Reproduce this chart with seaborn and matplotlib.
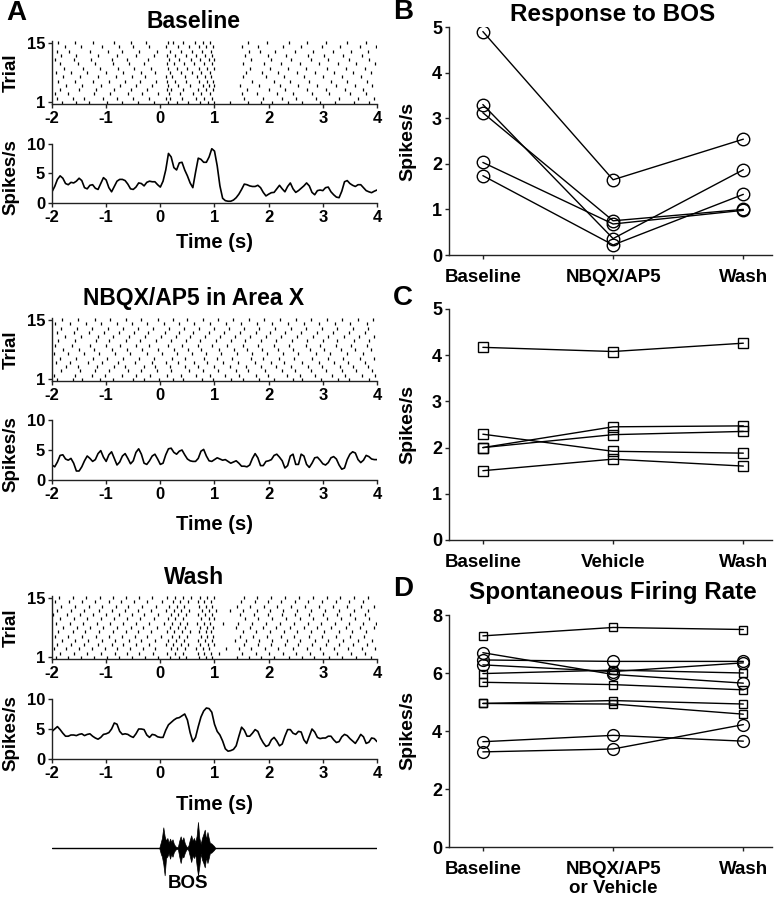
import numpy as np
import pandas as pd
import matplotlib
matplotlib.use("Agg")
import matplotlib.pyplot as plt
import seaborn as sns

# Estilo
sns.set_style("ticks")
plt.rcParams['font.family'] = ['Liberation Sans', 'DejaVu Sans']
plt.rcParams['font.weight'] = 'bold'
plt.rcParams['axes.unicode_minus'] = False
plt.rcParams['axes.linewidth'] = 1.0
plt.rcParams['axes.edgecolor'] = '#222222'
plt.rcParams['text.color'] = 'black'
plt.rcParams['axes.labelcolor'] = 'black'

# ---------------- Panel A: PSTH (spikes/s), 0.05 s bins from -2 to 4 s ----------------
psth_time = np.round(np.arange(-2.0, 4.0001, 0.05), 2)

psth_baseline = [
    1.9, 2.8, 4.0, 4.6, 4.2, 3.3, 3.1, 3.5, 3.4, 3.7,
    4.2, 3.8, 2.6, 2.4, 3.0, 3.1, 2.5, 2.3, 3.3, 4.3,
    3.9, 2.6, 1.9, 2.8, 3.7, 4.0, 4.0, 3.8, 3.2, 2.4,
    2.3, 2.7, 3.4, 3.3, 2.9, 3.5, 3.7, 3.6, 3.6, 3.1,
    2.7, 3.7, 5.6, 8.4, 7.8, 6.0, 5.6, 6.8, 6.9, 5.6,
    4.6, 3.4, 2.6, 5.2, 7.6, 7.4, 6.9, 6.9, 7.8, 9.2,
    8.8, 6.3, 2.9, 0.8, 0.4, 0.3, 0.3, 0.5, 0.9, 1.5,
    2.3, 3.2, 3.1, 2.9, 2.8, 2.8, 3.0, 2.6, 1.8, 1.2,
    1.5, 1.75, 1.8, 2.4, 3.0, 2.4, 1.9, 2.8, 3.4, 2.4,
    1.8, 2.1, 2.5, 2.9, 3.4, 2.9, 1.8, 1.4, 2.1, 2.2,
    2.1, 2.6, 2.7, 1.9, 1.4, 1.0, 0.9, 2.0, 3.6, 3.8,
    3.3, 3.0, 2.8, 3.1, 3.1, 2.6, 2.1, 1.9, 1.75, 2.0,
    2.2,
]
psth_nbqx = [
    2.5, 2.2, 3.0, 4.1, 4.2, 3.5, 3.3, 3.6, 2.8, 1.5,
    1.5, 2.2, 3.2, 4.0, 3.6, 3.1, 3.4, 4.4, 4.9, 3.8,
    3.1, 4.2, 4.7, 3.6, 2.5, 3.0, 4.0, 4.4, 3.6, 2.7,
    3.2, 4.6, 5.2, 4.3, 2.8, 2.6, 3.2, 4.0, 4.3, 3.5,
    2.6, 2.8, 4.2, 5.2, 5.3, 4.6, 4.3, 4.8, 5.0, 4.2,
    3.5, 3.2, 3.1, 3.1, 3.6, 4.8, 5.1, 4.0, 3.2, 3.1,
    3.4, 3.7, 3.5, 3.3, 3.4, 3.1, 2.8, 3.0, 3.2, 2.8,
    2.3, 2.3, 2.2, 2.5, 3.6, 4.4, 3.7, 2.4, 2.4, 3.1,
    3.2, 3.4, 4.1, 4.3, 3.8, 3.2, 2.0, 2.4, 4.0, 4.3,
    2.6, 2.6, 4.3, 4.0, 2.6, 2.1, 2.8, 3.7, 3.8, 3.3,
    2.7, 2.5, 2.9, 3.7, 3.9, 3.5, 2.5, 1.8, 2.0, 3.4,
    4.3, 4.7, 4.5, 3.4, 2.9, 3.3, 4.1, 3.9, 3.5, 3.4,
    3.4,
]
psth_wash = [
    4.6, 5.0, 5.4, 4.9, 4.3, 3.8, 3.8, 4.0, 4.0, 3.9,
    4.1, 4.2, 3.9, 4.1, 4.2, 3.8, 3.5, 3.3, 3.6, 4.1,
    4.2, 4.4, 5.0, 6.0, 5.8, 4.6, 4.1, 4.2, 4.1, 3.8,
    3.6, 4.2, 5.0, 5.0, 4.9, 4.0, 3.6, 4.1, 4.0, 3.7,
    3.6, 3.6, 4.8, 5.7, 6.1, 6.5, 6.8, 6.9, 7.2, 7.5,
    6.5, 4.4, 2.9, 3.6, 5.4, 7.0, 8.0, 8.5, 8.4, 7.8,
    5.8, 4.6, 4.0, 3.0, 1.7, 1.3, 1.4, 1.6, 2.2, 3.8,
    5.3, 4.8, 3.8, 3.8, 4.3, 4.9, 4.6, 3.5, 2.7, 2.1,
    2.3, 3.2, 3.6, 3.0, 2.2, 2.5, 3.8, 4.9, 4.9, 4.3,
    4.1, 4.6, 4.5, 3.2, 2.6, 3.8, 5.0, 4.5, 3.6, 3.4,
    3.5, 3.5, 3.8, 3.8, 3.2, 2.75, 2.9, 3.7, 4.1, 3.9,
    3.4, 3.0, 2.6, 3.3, 4.1, 3.7, 2.6, 2.8, 3.5, 3.4,
    2.9,
]

# ---------------- Panel A: rasters (spike times in s, trials 1..15) ----------------
raster_baseline = [
    [-1.82, -1.55, -1.31, -0.98, -0.71, -0.42, -0.12, 0.14, 0.31, 0.52, 0.73, 0.88, 0.99, 1.28, 1.62, 1.85, 2.07, 2.36, 2.62, 2.95, 3.22, 3.58, 3.85],
    [-1.9, -1.62, -1.4, -1.05, -0.8, -0.5, -0.2, 0.1, 0.18, 0.4, 0.65, 0.8, 0.95, 1.55, 1.9, 2.25, 2.5, 2.88, 3.3, 3.65, 3.95],
    [-1.95, -1.7, -1.22, -0.92, -0.6, -0.33, -0.05, 0.16, 0.36, 0.6, 0.76, 0.92, 1.5, 1.78, 2.15, 2.45, 2.8, 3.12, 3.5, 3.8],
    [-1.85, -1.5, -1.18, -0.85, -0.55, -0.25, 0.12, 0.2, 0.42, 0.7, 0.84, 0.97, 1.6, 2.0, 2.3, 2.7, 3.05, 3.4, 3.75],
    [-1.75, -1.45, -1.1, -0.75, -0.45, -0.15, 0.15, 0.33, 0.55, 0.78, 0.9, 1.0, 1.48, 1.82, 2.2, 2.55, 2.9, 3.25, 3.6, 3.9],
    [-1.88, -1.58, -1.25, -0.95, -0.65, -0.38, -0.08, 0.13, 0.28, 0.48, 0.72, 0.86, 0.98, 1.7, 2.1, 2.4, 2.75, 3.15, 3.45, 3.82],
    [-1.8, -1.48, -1.15, -0.82, -0.52, -0.28, 0.11, 0.22, 0.45, 0.68, 0.82, 0.94, 1.52, 1.95, 2.28, 2.65, 3.0, 3.35, 3.7],
    [-1.92, -1.65, -1.35, -1.0, -0.68, -0.35, -0.1, 0.17, 0.38, 0.58, 0.75, 0.91, 1.58, 1.88, 2.18, 2.52, 2.85, 3.2, 3.55, 3.88],
    [-1.78, -1.42, -1.12, -0.78, -0.48, -0.18, 0.14, 0.3, 0.5, 0.71, 0.87, 0.99, 1.65, 2.02, 2.35, 2.68, 3.08, 3.42, 3.78],
    [-1.86, -1.52, -1.2, -0.88, -0.58, -0.3, 0.12, 0.25, 0.44, 0.62, 0.8, 0.96, 1.53, 1.92, 2.22, 2.58, 2.92, 3.28, 3.62, 3.96],
    [-1.95, -1.6, -1.28, -0.9, -0.62, -0.22, 0.16, 0.35, 0.56, 0.74, 0.89, 1.0, 1.68, 2.05, 2.42, 2.78, 3.1, 3.48, 3.86],
    [-1.84, -1.55, -1.15, -0.8, -0.45, -0.12, 0.13, 0.27, 0.47, 0.66, 0.83, 0.95, 1.57, 1.98, 2.32, 2.72, 3.02, 3.38, 3.72],
    [-1.9, -1.68, -1.3, -0.96, -0.7, -0.4, -0.06, 0.18, 0.39, 0.59, 0.77, 0.93, 1.63, 1.84, 2.12, 2.48, 2.82, 3.18, 3.52, 3.84],
    [-1.76, -1.46, -1.08, -0.76, -0.5, -0.2, 0.1, 0.32, 0.53, 0.72, 0.85, 0.97, 1.5, 1.8, 2.26, 2.6, 2.98, 3.32, 3.68, 3.98],
    [-1.88, -1.58, -1.25, -0.86, -0.55, -0.26, 0.15, 0.24, 0.41, 0.64, 0.79, 0.92, 1.62, 1.96, 2.38, 2.7, 3.06, 3.44, 3.8],
]
raster_nbqx = [
    [-1.9, -1.62, -1.45, -1.12, -0.88, -0.51, -0.3, -0.02, 0.24, 0.41, 0.77, 0.98, 1.31, 1.52, 1.83, 2.1, 2.44, 2.61, 2.97, 3.28, 3.49, 3.85],
    [-1.96, -1.58, -1.27, -1.03, -0.71, -0.44, -0.19, 0.12, 0.38, 0.66, 0.92, 1.2, 1.46, 1.77, 1.99, 2.33, 2.58, 2.85, 3.17, 3.4, 3.73, 3.97],
    [-1.83, -1.49, -1.2, -0.94, -0.6, -0.36, -0.07, 0.2, 0.53, 0.79, 1.07, 1.39, 1.62, 1.93, 2.24, 2.49, 2.78, 3.06, 3.36, 3.62, 3.91],
    [-1.75, -1.52, -1.16, -0.86, -0.66, -0.3, -0.1, 0.17, 0.45, 0.7, 1.0, 1.28, 1.58, 1.86, 2.14, 2.42, 2.72, 2.99, 3.31, 3.55, 3.83],
    [-1.92, -1.66, -1.34, -1.08, -0.79, -0.47, -0.16, 0.1, 0.32, 0.63, 0.87, 1.16, 1.43, 1.74, 2.05, 2.29, 2.62, 2.92, 3.2, 3.47, 3.78],
    [-1.86, -1.55, -1.24, -0.98, -0.69, -0.4, -0.12, 0.22, 0.46, 0.8, 1.05, 1.33, 1.68, 1.9, 2.19, 2.47, 2.8, 3.1, 3.38, 3.68, 3.95],
    [-1.97, -1.7, -1.41, -1.14, -0.83, -0.56, -0.24, 0.04, 0.3, 0.58, 0.85, 1.12, 1.41, 1.7, 1.97, 2.26, 2.55, 2.87, 3.14, 3.44, 3.74],
    [-1.8, -1.5, -1.22, -0.9, -0.62, -0.33, -0.05, 0.25, 0.51, 0.75, 1.08, 1.36, 1.6, 1.88, 2.17, 2.45, 2.76, 3.02, 3.33, 3.6, 3.88],
    [-1.94, -1.63, -1.3, -1.01, -0.74, -0.45, -0.2, 0.14, 0.4, 0.69, 0.95, 1.24, 1.52, 1.81, 2.1, 2.38, 2.68, 2.95, 3.24, 3.52, 3.82],
    [-1.88, -1.57, -1.19, -0.95, -0.64, -0.37, -0.08, 0.19, 0.48, 0.73, 1.02, 1.3, 1.57, 1.85, 2.13, 2.43, 2.71, 3.0, 3.27, 3.57, 3.86],
    [-1.76, -1.46, -1.15, -0.87, -0.58, -0.28, 0.01, 0.29, 0.55, 0.83, 1.11, 1.38, 1.66, 1.95, 2.22, 2.52, 2.82, 3.09, 3.39, 3.66, 3.94],
    [-1.91, -1.6, -1.32, -1.04, -0.77, -0.49, -0.22, 0.08, 0.35, 0.6, 0.9, 1.18, 1.48, 1.76, 2.03, 2.3, 2.6, 2.9, 3.18, 3.48, 3.77],
    [-1.84, -1.54, -1.26, -0.97, -0.68, -0.42, -0.14, 0.16, 0.43, 0.72, 0.99, 1.27, 1.54, 1.83, 2.11, 2.41, 2.69, 2.98, 3.26, 3.55, 3.84],
    [-1.95, -1.67, -1.37, -1.09, -0.8, -0.52, -0.25, 0.06, 0.34, 0.62, 0.91, 1.21, 1.49, 1.79, 2.07, 2.36, 2.65, 2.93, 3.23, 3.51, 3.81],
    [-1.81, -1.52, -1.21, -0.92, -0.63, -0.35, -0.04, 0.23, 0.5, 0.78, 1.06, 1.35, 1.63, 1.92, 2.2, 2.5, 2.79, 3.07, 3.35, 3.64, 3.92],
]
raster_wash = [
    [-1.93, -1.71, -1.47, -1.22, -0.98, -0.76, -0.52, -0.29, -0.05, 0.18, 0.34, 0.47, 0.72, 0.85, 0.96, 1.42, 1.63, 1.86, 2.1, 2.37, 2.61, 2.84, 3.12, 3.36, 3.62, 3.88],
    [-1.86, -1.6, -1.36, -1.1, -0.84, -0.62, -0.4, -0.14, 0.12, 0.27, 0.42, 0.7, 0.81, 0.93, 1.08, 1.5, 1.76, 2.0, 2.26, 2.5, 2.76, 3.0, 3.27, 3.52, 3.77],
    [-1.97, -1.74, -1.5, -1.26, -1.03, -0.8, -0.56, -0.32, -0.09, 0.2, 0.31, 0.45, 0.66, 0.78, 0.9, 1.22, 1.46, 1.68, 1.93, 2.18, 2.44, 2.7, 2.95, 3.2, 3.46, 3.72, 3.96],
    [-1.9, -1.64, -1.41, -1.15, -0.9, -0.68, -0.44, -0.2, 0.1, 0.24, 0.38, 0.52, 0.74, 0.88, 1.0, 1.55, 1.8, 2.04, 2.3, 2.55, 2.8, 3.06, 3.3, 3.56, 3.82],
    [-1.82, -1.57, -1.33, -1.08, -0.83, -0.58, -0.35, -0.1, 0.15, 0.29, 0.43, 0.69, 0.83, 0.95, 1.37, 1.59, 1.83, 2.07, 2.33, 2.58, 2.86, 3.1, 3.38, 3.64, 3.9],
    [-1.95, -1.7, -1.45, -1.19, -0.94, -0.71, -0.47, -0.24, 0.02, 0.22, 0.35, 0.49, 0.76, 0.87, 0.98, 1.48, 1.72, 1.97, 2.22, 2.47, 2.74, 2.98, 3.24, 3.5, 3.76],
    [-1.88, -1.62, -1.39, -1.13, -0.88, -0.64, -0.41, -0.17, 0.13, 0.26, 0.4, 0.55, 0.71, 0.84, 0.94, 1.52, 1.77, 2.02, 2.28, 2.52, 2.78, 3.03, 3.29, 3.54, 3.8],
    [-1.8, -1.54, -1.3, -1.05, -0.8, -0.55, -0.32, -0.07, 0.17, 0.32, 0.46, 0.73, 0.86, 0.97, 1.4, 1.65, 1.9, 2.14, 2.4, 2.65, 2.9, 3.15, 3.42, 3.68, 3.94],
    [-1.92, -1.67, -1.43, -1.17, -0.92, -0.69, -0.45, -0.21, 0.06, 0.21, 0.36, 0.5, 0.68, 0.8, 0.92, 1.16, 1.44, 1.7, 1.95, 2.2, 2.46, 2.72, 2.97, 3.22, 3.48, 3.74, 3.98],
    [-1.85, -1.59, -1.35, -1.1, -0.86, -0.61, -0.37, -0.12, 0.14, 0.28, 0.41, 0.75, 0.89, 0.99, 1.56, 1.81, 2.06, 2.32, 2.57, 2.82, 3.08, 3.33, 3.6, 3.86],
    [-1.98, -1.73, -1.48, -1.24, -1.0, -0.77, -0.53, -0.3, -0.04, 0.19, 0.33, 0.48, 0.7, 0.82, 0.95, 1.47, 1.73, 1.98, 2.24, 2.49, 2.75, 3.01, 3.26, 3.51, 3.78],
    [-1.9, -1.65, -1.4, -1.14, -0.89, -0.66, -0.42, -0.18, 0.11, 0.25, 0.39, 0.53, 0.77, 0.9, 1.02, 1.29, 1.53, 1.78, 2.03, 2.27, 2.53, 2.79, 3.04, 3.3, 3.57, 3.83],
    [-1.83, -1.58, -1.32, -1.07, -0.82, -0.59, -0.34, -0.08, 0.16, 0.3, 0.44, 0.72, 0.84, 0.96, 1.41, 1.66, 1.91, 2.16, 2.41, 2.67, 2.92, 3.18, 3.44, 3.7, 3.95],
    [-1.94, -1.69, -1.44, -1.2, -0.95, -0.72, -0.48, -0.25, 0.04, 0.23, 0.37, 0.51, 0.69, 0.81, 0.93, 1.49, 1.74, 1.99, 2.23, 2.48, 2.73, 2.99, 3.25, 3.49, 3.75],
    [-1.87, -1.61, -1.37, -1.11, -0.87, -0.63, -0.39, -0.15, 0.12, 0.27, 0.42, 0.57, 0.74, 0.87, 0.99, 1.54, 1.79, 2.04, 2.31, 2.56, 2.81, 3.07, 3.32, 3.58, 3.84],
]

# ---------------- BOS oscillogram envelope (arbitrary units) ----------------
bos_time = [-0.02, 0.01, 0.03, 0.055, 0.08, 0.105, 0.13, 0.155, 0.18, 0.20, 0.225, 0.25,
            0.275, 0.30, 0.325, 0.35, 0.375, 0.40, 0.425, 0.45, 0.475, 0.50, 0.52, 0.545,
            0.57, 0.595, 0.62, 0.645, 0.67, 0.695, 0.72, 0.745, 0.77, 0.795, 0.82, 0.845,
            0.87, 0.89, 0.915, 0.94, 0.965, 0.99, 1.015]
bos_upper = [0, 18, 30, 62, 35, 22, 30, 15, 28, 18, 26, 12, 6, 2, 4, 22, 35, 20, 32, 15, 6,
             2, 8, 25, 38, 22, 30, 18, 36, 78, 30, 12, 30, 42, 55, 25, 48, 32, 15, 14, 10, 6, 0]
bos_lower = [0, 18, 26, 48, 82, 30, 25, 15, 32, 18, 26, 12, 6, 2, 4, 26, 45, 24, 28, 15, 6,
             2, 8, 25, 42, 22, 30, 18, 52, 82, 55, 16, 35, 45, 58, 28, 45, 32, 15, 14, 10, 6, 0]

# ---------------- Panels B-D ----------------
conds_bd = ["Baseline", "NBQX/AP5", "Wash"]
conds_c = ["Baseline", "Vehicle", "Wash"]
conds_d = ["Baseline", "NBQX/AP5\nor Vehicle", "Wash"]

# B: response to BOS, drug units (rows = units; cols = Baseline, NBQX/AP5, Wash)
bos_resp = [
    [4.90, 1.65, 2.54],
    [3.30, 0.36, 1.87],
    [3.12, 0.75, 1.00],
    [2.03, 0.68, 0.98],
    [1.74, 0.22, 1.33],
]
# C: vehicle units
vehicle_resp = [
    [4.17, 4.08, 4.26],
    [2.29, 1.92, 1.88],
    [2.00, 2.45, 2.47],
    [2.00, 2.28, 2.35],
    [1.50, 1.75, 1.60],
]
# D: spontaneous firing rate
spont_drug = [
    [6.70, 5.95, 5.65],
    [6.45, 6.40, 6.40],
    [6.28, 6.05, 6.35],
    [3.63, 3.85, 3.65],
    [3.28, 3.38, 4.22],
]
spont_vehicle = [
    [7.28, 7.57, 7.50],
    [5.98, 6.10, 6.00],
    [5.68, 5.60, 5.42],
    [4.95, 5.05, 4.93],
    [4.95, 4.93, 4.58],
]


def to_long(rows):
    recs = []
    for u, row in enumerate(rows):
        for c, v in enumerate(row):
            recs.append({"unit": u, "cond": c, "rate": v})
    return pd.DataFrame(recs)


W, H = 776, 900
fig = plt.figure(figsize=(W / 100, H / 100), dpi=100)


def px_axes(l, t, r, b):
    return fig.add_axes([l / W, 1 - b / H, (r - l) / W, (b - t) / H])


def ftext(x, y, s, **kw):
    fig.text(x / W, 1 - y / H, s, ha='center', va='center', fontweight='bold',
             color='black', **kw)


def style(ax, size=12):
    sns.despine(ax=ax)
    ax.tick_params(direction='out', length=3, width=1, labelsize=size, pad=2,
                   colors='#222222', labelcolor='black')
    for lab in ax.get_xticklabels() + ax.get_yticklabels():
        lab.set_fontweight('bold')


def raster(ax, trials):
    ax.eventplot(trials, lineoffsets=np.arange(1, len(trials) + 1), linelengths=0.7,
                 colors='black', linewidths=0.9)
    ax.set_xlim(-2, 4)
    ax.set_ylim(0.6, 15.4)
    ax.set_yticks([1, 15])
    ax.set_xticks(range(-2, 5))
    style(ax)


def psth(ax, rates):
    sns.lineplot(x=psth_time, y=rates, ax=ax, color='black', linewidth=1.2)
    ax.set_xlim(-2, 4)
    ax.set_ylim(0, 10)
    ax.set_yticks([0, 5, 10])
    ax.set_xticks(range(-2, 5))
    ax.set_xlabel('')
    ax.set_ylabel('')
    style(ax)


# Panel A layout (pixel rows)
blocks = [
    ("Baseline", raster_baseline, psth_baseline, 22, (41, 104), (144, 203), 243),
    ("NBQX/AP5 in Area X", raster_nbqx, psth_nbqx, 298, (318, 381), (420, 480), 525),
    ("Wash", raster_wash, psth_wash, 578, (596, 659), (699, 759), 805),
]
for title, trials, rates, ty, (rt, rb), (pt, pb), tl in blocks:
    ax_r = px_axes(52, rt, 377, rb)
    raster(ax_r, trials)
    ax_p = px_axes(52, pt, 377, pb)
    psth(ax_p, rates)
    ftext(194, ty, title, fontsize=16.5)
    ftext(11, (rt + rb) / 2, "Trial", fontsize=13.5, rotation=90)
    ftext(11, (pt + pb) / 2 + 4, "Spikes/s", fontsize=13.5, rotation=90)
    ftext(214, tl, "Time (s)", fontsize=14.5)

# BOS oscillogram
ax_bos = px_axes(52, 818, 377, 878)
ax_bos.axhline(0, color='black', lw=1)
ax_bos.fill_between(bos_time, [-v for v in bos_lower], bos_upper, color='black', lw=0.5)
ax_bos.set_xlim(-2, 4)
ax_bos.set_ylim(-90, 90)
ax_bos.axis('off')
ftext(188, 884, "BOS", fontsize=13.5)

# Panels B-D
right = [
    (bos_resp, None, conds_bd, (27, 255), 5, "Response to BOS", 15),
    (vehicle_resp, None, conds_c, (309, 540), 5, None, None),
    (spont_drug, spont_vehicle, conds_d, (615, 847), 8, "Spontaneous Firing Rate", 592),
]
for circ, sq, labels, (t, b), ymax, title, ty in right:
    ax = px_axes(449, t, 772, b)
    if labels is conds_c:
        sns.lineplot(data=to_long(circ), x="cond", y="rate", units="unit", estimator=None,
                     color='black', lw=1, marker='s', markersize=6.5, markerfacecolor='none',
                     markeredgecolor='black', markeredgewidth=1, ax=ax)
    else:
        ms = 9 if sq is None else 8.5
        sns.lineplot(data=to_long(circ), x="cond", y="rate", units="unit", estimator=None,
                     color='black', lw=1, marker='o', markersize=ms, markerfacecolor='none',
                     markeredgecolor='black', markeredgewidth=1, ax=ax)
    if sq is not None:
        sns.lineplot(data=to_long(sq), x="cond", y="rate", units="unit", estimator=None,
                     color='black', lw=1, marker='s', markersize=6, markerfacecolor='none',
                     markeredgecolor='black', markeredgewidth=1, ax=ax)
    ax.set_xlim(-0.26, 2.22)
    ax.set_ylim(0, ymax)
    ax.set_yticks(range(0, ymax + 1, 1 if ymax == 5 else 2))
    ax.set_xticks([0, 1, 2])
    ax.set_xticklabels(labels)
    ax.set_xlabel('')
    ax.set_ylabel('')
    style(ax, size=13)
    ax.tick_params(axis='x', labelsize=13.5, pad=7)
    ftext(408, (t + b) / 2, "Spikes/s", fontsize=14, rotation=90)
    if title:
        ftext(613, ty, title, fontsize=17.5)

# Panel letters
ftext(16, 13, "A", fontsize=20)
ftext(403, 12, "B", fontsize=20)
ftext(403, 298, "C", fontsize=20)
ftext(403, 589, "D", fontsize=20)

fig.savefig("out.png", dpi=100)
